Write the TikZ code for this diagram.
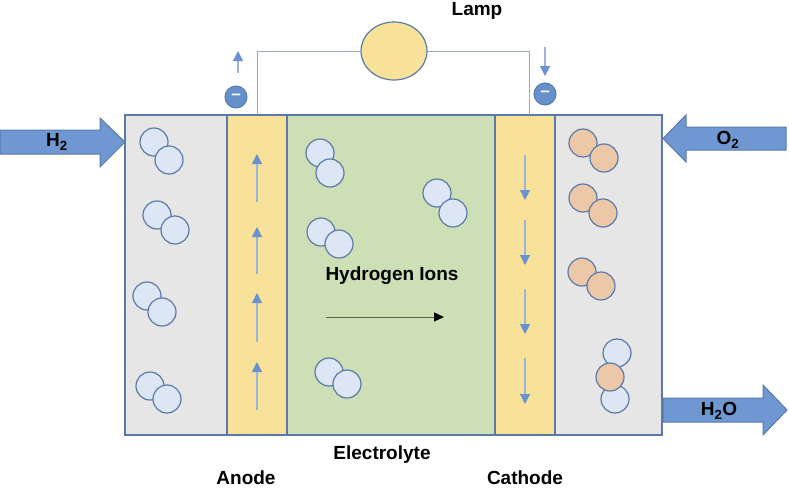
\documentclass[tikz,border=0pt]{standalone}
\usepackage{fontspec}
\setmainfont{Liberation Sans}
\usetikzlibrary{arrows.meta,shapes.geometric}
\definecolor{grayfill}{HTML}{E6E6E6}
\definecolor{yel}{HTML}{F8E29A}
\definecolor{grn}{HTML}{CDDFB5}
\definecolor{bord}{HTML}{5A7AA9}
\definecolor{hfill}{HTML}{DDE6F4}
\definecolor{ofill}{HTML}{EDC8A8}
\definecolor{blockblue}{HTML}{6F98D2}
\definecolor{elec}{HTML}{6690CC}
\definecolor{wire}{HTML}{8EABD8}
\definecolor{flowline}{HTML}{9AB4DC}
\definecolor{flowhead}{HTML}{6A92D0}
\definecolor{ionline}{HTML}{55654F}
\tikzset{
  region/.style={draw=bord, line width=1.5pt, minimum height=320pt, inner sep=0pt},
  hatom/.style={circle, draw=bord, line width=1.2pt, fill=hfill, minimum size=28pt, inner sep=0pt},
  oatom/.style={circle, draw=bord, line width=1.2pt, fill=ofill, minimum size=28pt, inner sep=0pt},
  electron/.style={circle, draw=bord, line width=1pt, fill=elec, minimum width=22pt, minimum height=21pt, inner sep=0pt, text=white},
  flow/.style={draw=flowline, line width=1.2pt, -{Triangle[length=10pt,width=10pt,color=flowhead]}},
  wireline/.style={draw=wire, line width=0.9pt},
  blockarrow/.style={fill=blockblue, draw=bord, line width=1pt},
  lbl/.style={font=\fontsize{19}{22}\selectfont\bfseries, inner sep=0pt}
}
\begin{document}
\begin{tikzpicture}[x=1pt,y=-1pt]
\useasboundingbox (0,0) rectangle (789,488);

% regions
\node[region, fill=grayfill, minimum width=102pt] (gasL) at (176,275) {};
\node[region, fill=grayfill, minimum width=107pt] (gasR) at (608.5,275) {};
\node[region, fill=grn, minimum width=208pt] (electrolyte) at (391,275) {};
\node[region, fill=yel, minimum width=60pt] (anode) at (257,275) {};
\node[region, fill=yel, minimum width=60pt] (cathode) at (525,275) {};

% lamp and wires
\node[ellipse, draw=bord, line width=1.2pt, fill=yel, minimum width=66pt, minimum height=58pt] (lamp) at (394,51) {};
\node[lbl] (lamplbl) at (477,11) {Lamp};
\coordinate (cwire) at (529,115);
\draw[wireline] (anode.north) |- (lamp.west);
\draw[wireline] (lamp.east) -| (cwire);

% electrons
\node[electron] (eL) at (236,97) {\raisebox{-2pt}{\fontsize{17}{17}\selectfont\bfseries –}};
\node[electron] (eR) at (545,94) {\raisebox{-2pt}{\fontsize{17}{17}\selectfont\bfseries –}};
\coordinate (eLa) at (238,73); \coordinate (eLb) at (238,51);
\coordinate (eRa) at (545,47); \coordinate (eRb) at (545,76);
\draw[flow] (eLa) -- (eLb);
\draw[flow] (eRa) -- (eRb);

% anode flow arrows (up)
\foreach \b/\t [count=\i] in {202/154, 274/227, 342/293, 410/362}{
  \coordinate (aa\i) at (257,\b); \coordinate (ab\i) at (257,\t);
  \draw[flow] (aa\i) -- (ab\i);
}
% cathode flow arrows (down)
\foreach \t/\b [count=\i] in {155/200, 220/265, 289/334, 358/404}{
  \coordinate (ca\i) at (525,\t); \coordinate (cb\i) at (525,\b);
  \draw[flow] (ca\i) -- (cb\i);
}

% hydrogen molecules, fuel side
\node[hatom] (h1a) at (154,142) {}; \node[hatom] (h1b) at (169,160) {};
\node[hatom] (h2a) at (157,215) {}; \node[hatom] (h2b) at (175,230) {};
\node[hatom] (h3a) at (147,296) {}; \node[hatom] (h3b) at (162,312) {};
\node[hatom] (h4a) at (150,386) {}; \node[hatom] (h4b) at (167,399) {};

% hydrogen in electrolyte
\node[hatom] (e1a) at (320,153) {}; \node[hatom] (e1b) at (330,173) {};
\node[hatom] (e2a) at (437,193) {}; \node[hatom] (e2b) at (453,213) {};
\node[hatom] (e3a) at (321,232) {}; \node[hatom] (e3b) at (339,244) {};
\node[hatom] (e4a) at (329,372) {}; \node[hatom] (e4b) at (347,384) {};

\node[lbl] (ions) at (392,276) {Hydrogen Ions};
\coordinate (ionA) at (326,317); \coordinate (ionB) at (444,317);
\draw[draw=ionline, line width=1pt, -{Triangle[length=10pt,width=9pt,color=black]}] (ionA) -- (ionB);

% oxygen molecules
\node[oatom] (o1a) at (583,143) {}; \node[oatom] (o1b) at (604,158) {};
\node[oatom] (o2a) at (583,198) {}; \node[oatom] (o2b) at (603,213) {};
\node[oatom] (o3a) at (582,272) {}; \node[oatom] (o3b) at (601,286) {};

% water
\node[hatom] (w1) at (617,353) {};
\node[hatom] (w2) at (615,399) {};
\node[oatom] (wo) at (610,377) {};

% block arrows
\draw[blockarrow] (0,130) -- (100,130) -- (100,118) -- (125,142) -- (100,167) -- (100,154) -- (0,154) -- cycle;
\node[lbl] (h2lbl) at (57,142) {H\textsubscript{2}};
\draw[blockarrow] (786,127) -- (686,127) -- (686,115) -- (663,138.5) -- (686,162) -- (686,150) -- (786,150) -- cycle;
\node[lbl] (o2lbl) at (728,140) {O\textsubscript{2}};
\draw[blockarrow] (663,398) -- (763,398) -- (763,385) -- (787,410) -- (763,435) -- (763,422) -- (663,422) -- cycle;
\node[lbl] (h2olbl) at (719,411) {H\textsubscript{2}O};

% bottom labels
\node[lbl] (elbl) at (382,455) {Electrolyte};
\node[lbl] (albl) at (246,478) {Anode};
\node[lbl] (cthlbl) at (525,478) {Cathode};
\end{tikzpicture}
\end{document}
